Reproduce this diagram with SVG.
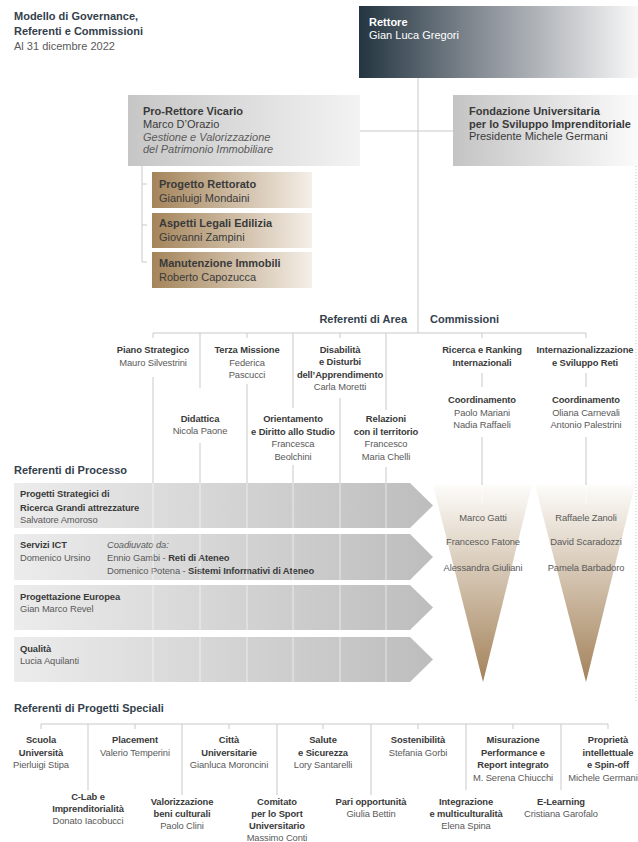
<svg xmlns="http://www.w3.org/2000/svg" width="638" height="842" viewBox="0 0 638 842">
<defs>
<linearGradient id="gRet" x1="0" y1="0" x2="1" y2="0"><stop offset="0" stop-color="#233541"/><stop offset="0.45" stop-color="#8a9098"/><stop offset="1" stop-color="#f8f8f8"/></linearGradient>
<linearGradient id="gGray" x1="0" y1="0" x2="1" y2="0"><stop offset="0" stop-color="#c6c6c6"/><stop offset="1" stop-color="#f3f3f3"/></linearGradient>
<linearGradient id="gGray2" x1="0" y1="0" x2="1" y2="0"><stop offset="0" stop-color="#c4c4c4"/><stop offset="1" stop-color="#fbfbfb"/></linearGradient>
<linearGradient id="gGold" x1="0" y1="0" x2="1" y2="0"><stop offset="0" stop-color="#a4845a"/><stop offset="1" stop-color="#f4efe8"/></linearGradient>
<linearGradient id="gArrow" x1="0" y1="0" x2="1" y2="0"><stop offset="0" stop-color="#ececec"/><stop offset="1" stop-color="#bdbdbd"/></linearGradient>
<linearGradient id="gTri" x1="0" y1="0" x2="0" y2="1"><stop offset="0" stop-color="#fdfcfa"/><stop offset="1" stop-color="#a3825a"/></linearGradient>
</defs>
<style>
text{font-family:"Liberation Sans",Arial,sans-serif}
.h{font-weight:bold;fill:#34414c;font-size:11px}
.bx{font-size:11px;fill:#3a3a3a}
.b{font-weight:bold}
.i{font-style:italic}
.w{fill:#ffffff}
.l{font-size:9.4px;fill:#3a3a3a;text-anchor:middle;letter-spacing:-0.1px}
.s{font-size:9.4px;fill:#3a3a3a;letter-spacing:-0.1px}
.n{fill:#5a5a5a}
.ln{stroke:#c9c9c9;stroke-width:1;fill:none}
.lw{stroke:#ffffff;stroke-opacity:0.6;stroke-width:1;fill:none}
.dot{stroke:#c9c9c9;stroke-width:1;stroke-dasharray:1 2;fill:none}
</style>
<rect width="638" height="842" fill="#ffffff"/>

<g id="title">
<text class="h" x="14" y="20">Modello di Governance,</text>
<text class="h" x="14" y="35">Referenti e Commissioni</text>
<text class="bx n" x="14" y="50">Al 31 dicembre 2022</text>
</g>

<line class="dot" x1="636" y1="166" x2="636" y2="703"/>

<g id="rettore">
<rect x="359" y="6" width="279" height="72" fill="url(#gRet)"/>
<text class="bx w b" x="369" y="26">Rettore</text>
<text class="bx w" x="369" y="39">Gian Luca Gregori</text>
</g>

<g id="prorettore">
<rect x="128" y="95" width="232" height="71" fill="url(#gGray)"/>
<text class="bx b" x="143" y="115">Pro-Rettore Vicario</text>
<text class="bx" x="143" y="127.5">Marco D’Orazio</text>
<text class="bx i n" x="143" y="140.5">Gestione e Valorizzazione</text>
<text class="bx i n" x="143" y="153">del Patrimonio Immobiliare</text>
</g>

<g id="fondazione">
<rect x="453" y="95" width="185" height="71" fill="url(#gGray2)"/>
<text class="bx b" x="469" y="115">Fondazione Universitaria</text>
<text class="bx b" x="469" y="127.5">per lo Sviluppo Imprenditoriale</text>
<text class="bx" x="469" y="140">Presidente Michele Germani</text>
</g>

<g id="progetto-rettorato">
<rect x="152" y="172" width="160" height="36" fill="url(#gGold)"/>
<text class="bx b" x="159" y="188">Progetto Rettorato</text>
<text class="bx" x="159" y="202">Gianluigi Mondaini</text>
</g>
<g id="aspetti-legali">
<rect x="152" y="213" width="160" height="35" fill="url(#gGold)"/>
<text class="bx b" x="159" y="227">Aspetti Legali Edilizia</text>
<text class="bx" x="159" y="241">Giovanni Zampini</text>
</g>
<g id="manutenzione">
<rect x="152" y="252" width="160" height="36" fill="url(#gGold)"/>
<text class="bx b" x="159" y="267">Manutenzione Immobili</text>
<text class="bx" x="159" y="281">Roberto Capozucca</text>
</g>

<g id="headers">
<text class="h" x="407" y="323" text-anchor="end">Referenti di Area</text>
<text class="h" x="430" y="323">Commissioni</text>
<text class="h" x="14" y="474">Referenti di Processo</text>
<text class="h" x="14" y="712">Referenti di Progetti Speciali</text>
</g>

<g id="area-piano">
<text class="l b" x="153" y="353">Piano Strategico</text>
<text class="l n" x="153" y="365.5">Mauro Silvestrini</text>
</g>
<g id="area-didattica">
<text class="l b" x="200" y="421.5">Didattica</text>
<text class="l n" x="200" y="434">Nicola Paone</text>
</g>
<g id="area-terza">
<text class="l b" x="247" y="353">Terza Missione</text>
<text class="l n" x="247" y="365.5">Federica</text>
<text class="l n" x="247" y="378">Pascucci</text>
</g>
<g id="area-orientamento">
<text class="l b" x="293" y="422">Orientamento</text>
<text class="l b" x="293" y="434.5">e Diritto allo Studio</text>
<text class="l n" x="293" y="447">Francesca</text>
<text class="l n" x="293" y="459.5">Beolchini</text>
</g>
<g id="area-disabilita">
<text class="l b" x="340" y="352.5">Disabilità</text>
<text class="l b" x="340" y="365">e Disturbi</text>
<text class="l b" x="340" y="377.5">dell’Apprendimento</text>
<text class="l n" x="340" y="390">Carla Moretti</text>
</g>
<g id="area-relazioni">
<text class="l b" x="386" y="422">Relazioni</text>
<text class="l b" x="386" y="434.5">con il territorio</text>
<text class="l n" x="386" y="447">Francesco</text>
<text class="l n" x="386" y="459.5">Maria Chelli</text>
</g>

<g id="comm-ricerca">
<text class="l b" x="482" y="353">Ricerca e Ranking</text>
<text class="l b" x="482" y="365.5">Internazionali</text>
<text class="l b" x="482" y="403">Coordinamento</text>
<text class="l n" x="482" y="415.5">Paolo Mariani</text>
<text class="l n" x="482" y="428">Nadia Raffaeli</text>
</g>
<g id="comm-intern">
<text class="l b" x="585" y="353">Internazionalizzazione</text>
<text class="l b" x="585" y="365.5">e Sviluppo Reti</text>
<text class="l b" x="586" y="403">Coordinamento</text>
<text class="l n" x="586" y="415.5">Oliana Carnevali</text>
<text class="l n" x="586" y="428">Antonio Palestrini</text>
</g>

<g id="proc-progetti">
<path d="M14,483H410L433,505.5L410,528H14Z" fill="url(#gArrow)"/>
<text class="s b" x="20" y="497">Progetti Strategici di</text>
<text class="s b" x="20" y="510.5">Ricerca Grandi attrezzature</text>
<text class="s n" x="20" y="523">Salvatore Amoroso</text>
</g>
<g id="proc-ict">
<path d="M14,534H410L433,557L410,580H14Z" fill="url(#gArrow)"/>
<text class="s b" x="20" y="548">Servizi ICT</text>
<text class="s n" x="20" y="561">Domenico Ursino</text>
<text class="s i n" x="107" y="548">Coadiuvato da:</text>
<text class="s n" x="107" y="561">Ennio Gambi - <tspan class="b" fill="#3a3a3a">Reti di Ateneo</tspan></text>
<text class="s n" x="107" y="574">Domenico Potena - <tspan class="b" fill="#3a3a3a">Sistemi Informativi di Ateneo</tspan></text>
</g>
<g id="proc-europa">
<path d="M14,585H410L433,607.5L410,630H14Z" fill="url(#gArrow)"/>
<text class="s b" x="20" y="600">Progettazione Europea</text>
<text class="s n" x="20" y="612">Gian Marco Revel</text>
</g>
<g id="proc-qualita">
<path d="M14,637H410L433,659.5L410,682H14Z" fill="url(#gArrow)"/>
<text class="s b" x="20" y="652">Qualità</text>
<text class="s n" x="20" y="664">Lucia Aquilanti</text>
</g>

<g id="tri-ricerca">
<path d="M433,485H532L483,682Z" fill="url(#gTri)"/>
<text class="l n" x="483" y="521">Marco Gatti</text>
<text class="l n" x="483" y="545">Francesco Fatone</text>
<text class="l n" x="483" y="571">Alessandra Giuliani</text>
</g>
<g id="tri-intern">
<path d="M535,485H635L586,682Z" fill="url(#gTri)"/>
<text class="l n" x="586" y="521">Raffaele Zanoli</text>
<text class="l n" x="586" y="545">David Scaradozzi</text>
<text class="l n" x="586" y="571">Pamela Barbadoro</text>
</g>

<g id="sp-scuola">
<text class="l b" x="41" y="743">Scuola</text>
<text class="l b" x="41" y="755.5">Università</text>
<text class="l n" x="41" y="768">Pierluigi Stipa</text>
</g>
<g id="sp-placement">
<text class="l b" x="135" y="743">Placement</text>
<text class="l n" x="135" y="755.5">Valerio Temperini</text>
</g>
<g id="sp-citta">
<text class="l b" x="229" y="743">Città</text>
<text class="l b" x="229" y="755.5">Universitarie</text>
<text class="l n" x="229" y="768">Gianluca Moroncini</text>
</g>
<g id="sp-salute">
<text class="l b" x="323" y="743">Salute</text>
<text class="l b" x="323" y="755.5">e Sicurezza</text>
<text class="l n" x="323" y="768">Lory Santarelli</text>
</g>
<g id="sp-sostenibilita">
<text class="l b" x="418" y="743">Sostenibilità</text>
<text class="l n" x="418" y="755.5">Stefania Gorbi</text>
</g>
<g id="sp-misurazione">
<text class="l b" x="513" y="743">Misurazione</text>
<text class="l b" x="513" y="755.5">Performance e</text>
<text class="l b" x="513" y="768">Report integrato</text>
<text class="l n" x="513" y="780.5">M. Serena Chiucchi</text>
</g>
<g id="sp-proprieta">
<text class="l b" x="608" y="743">Proprietà</text>
<text class="l b" x="608" y="755.5">intellettuale</text>
<text class="l b" x="608" y="768">e Spin-off</text>
<text class="l n" x="603" y="780.5">Michele Germani</text>
</g>
<g id="sp-clab">
<text class="l b" x="88" y="800">C-Lab e</text>
<text class="l b" x="88" y="812">Imprenditorialità</text>
<text class="l n" x="88" y="824">Donato Iacobucci</text>
</g>
<g id="sp-valorizzazione">
<text class="l b" x="182" y="805">Valorizzazione</text>
<text class="l b" x="182" y="817">beni culturali</text>
<text class="l n" x="182" y="829">Paolo Clini</text>
</g>
<g id="sp-comitato">
<text class="l b" x="277" y="805">Comitato</text>
<text class="l b" x="277" y="817">per lo Sport</text>
<text class="l b" x="277" y="829">Universitario</text>
<text class="l n" x="277" y="841">Massimo Conti</text>
</g>
<g id="sp-pari">
<text class="l b" x="371" y="805">Pari opportunità</text>
<text class="l n" x="371" y="817">Giulia Bettin</text>
</g>
<g id="sp-integrazione">
<text class="l b" x="466" y="805">Integrazione</text>
<text class="l b" x="466" y="817">e multiculturalità</text>
<text class="l n" x="466" y="829">Elena Spina</text>
</g>
<g id="sp-elearning">
<text class="l b" x="561" y="805">E-Learning</text>
<text class="l n" x="561" y="817">Cristiana Garofalo</text>
</g>

<g id="connectors">
<path class="ln" d="M418,78V333M360,131H453M142,166V262H147M142,184H147M142,225H147"/>
<path class="ln" d="M153,333H586M153,333V338M247,333V338M340,333V338M482,333V338M586,333V338M200,333V388M293,333V408M386,333V410"/>
<path class="ln" d="M153,377V483M200,443V483M247,384V483M293,465V483M340,398V483M386,467V483"/>
<path class="lw" d="M153,483V682M200,483V682M247,483V682M293,483V682M340,483V682M386,483V682"/>
<path class="ln" d="M482,373V387M586,373V387M482,437V485M586,437V485"/>
<path class="lw" d="M482,485V505M586,485V505"/>
<path class="ln" d="M41,724H608M41,724V729M135,724V729M229,724V729M323,724V729M418,724V729M513,724V729M608,724V729"/>
<path class="ln" d="M88,724V790M182,724V795M277,724V795M371,724V795M466,724V790M561,724V790"/>
</g>
</svg>
